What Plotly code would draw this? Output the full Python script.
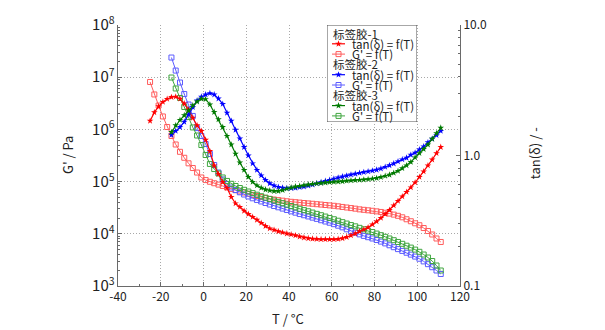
import plotly.graph_objects as go

# Temperature grids (°C)
temp_1 = [-25, -23, -21, -19, -17, -15, -13, -11, -9, -7, -5, -3, -1, 1, 3, 5, 7, 9, 11, 13,
          15, 17, 19, 21, 23, 25, 27, 29, 31, 33, 35, 37, 39, 41, 43, 45, 47, 49, 51, 53,
          55, 57, 59, 61, 63, 65, 67, 69, 71, 73, 75, 77, 79, 81, 83, 85, 87, 89, 91, 93,
          95, 97, 99, 101, 103, 105, 107, 109, 111]
temp_23 = [-15, -13, -11, -9, -7, -5, -3, -1, 1, 3, 5, 7, 9, 11, 13,
           15, 17, 19, 21, 23, 25, 27, 29, 31, 33, 35, 37, 39, 41, 43, 45, 47, 49, 51, 53,
           55, 57, 59, 61, 63, 65, 67, 69, 71, 73, 75, 77, 79, 81, 83, 85, 87, 89, 91, 93,
           95, 97, 99, 101, 103, 105, 107, 109, 111]

# Sample 1
tan_1 = [1.84, 2.14, 2.38, 2.57, 2.71, 2.80, 2.82, 2.72, 2.50, 2.25, 1.94, 1.70, 1.54, 1.32, 1.08,
         0.838, 0.722, 0.627, 0.564, 0.481, 0.429, 0.403, 0.376, 0.356, 0.338, 0.321, 0.304, 0.288,
         0.276, 0.269, 0.262, 0.257, 0.252, 0.248, 0.244, 0.239, 0.235, 0.232, 0.230, 0.229, 0.228,
         0.228, 0.228, 0.228, 0.229, 0.232, 0.237, 0.244, 0.252, 0.262, 0.271, 0.281, 0.296, 0.312,
         0.332, 0.356, 0.382, 0.414, 0.448, 0.485, 0.525, 0.569, 0.621, 0.684, 0.754, 0.838, 0.931,
         1.04, 1.16]
gp_1 = [8.1e6, 4.67e6, 2.87e6, 1.77e6, 1.11e6, 7.48e5, 5.14e5, 3.72e5, 2.86e5, 2.24e5, 1.82e5,
        1.49e5, 1.20e5, 1.07e5, 9.92e4, 9.31e4, 8.76e4, 8.24e4, 7.71e4, 7.21e4, 6.84e4, 6.49e4,
        6.18e4, 5.84e4, 5.54e4, 5.30e4, 5.07e4, 4.85e4, 4.68e4, 4.54e4, 4.42e4, 4.31e4, 4.20e4,
        4.10e4, 4.03e4, 3.96e4, 3.89e4, 3.82e4, 3.76e4, 3.69e4, 3.63e4, 3.56e4, 3.50e4, 3.44e4,
        3.36e4, 3.27e4, 3.19e4, 3.11e4, 3.03e4, 2.94e4, 2.88e4, 2.82e4, 2.76e4, 2.69e4, 2.62e4,
        2.53e4, 2.44e4, 2.33e4, 2.21e4, 2.07e4, 1.90e4, 1.74e4, 1.59e4, 1.46e4, 1.29e4, 1.13e4,
        9.70e3, 8.13e3, 6.97e3]

# Sample 2
tan_2 = [1.44, 1.54, 1.65, 1.81, 2.06, 2.35, 2.64, 2.82, 2.93, 3.00, 2.93, 2.73, 2.48, 2.12, 1.84,
         1.57, 1.35, 1.16, 1.00, 0.869, 0.774, 0.703, 0.649, 0.612, 0.588, 0.574, 0.565, 0.561,
         0.561, 0.565, 0.571, 0.578, 0.588, 0.598, 0.610, 0.623, 0.637, 0.649, 0.663, 0.676, 0.689,
         0.701, 0.713, 0.724, 0.734, 0.745, 0.754, 0.764, 0.776, 0.794, 0.816, 0.840, 0.867, 0.900,
         0.932, 0.960, 1.01, 1.05, 1.11, 1.17, 1.26, 1.34, 1.43, 1.54]
gp_2 = [2.38e7, 1.34e7, 7.91e6, 4.76e6, 3.00e6, 1.81e6, 1.06e6, 7.48e5, 5.25e5, 3.38e5, 2.08e5,
        1.49e5, 1.10e5, 8.99e4, 7.71e4, 6.90e4, 6.24e4, 5.66e4, 5.19e4, 4.79e4, 4.45e4, 4.16e4,
        3.89e4, 3.64e4, 3.41e4, 3.22e4, 3.04e4, 2.86e4, 2.69e4, 2.54e4, 2.39e4, 2.27e4, 2.15e4,
        2.04e4, 1.93e4, 1.82e4, 1.72e4, 1.63e4, 1.53e4, 1.43e4, 1.33e4, 1.22e4, 1.13e4, 1.05e4,
        9.75e3, 9.12e3, 8.61e3, 8.13e3, 7.61e3, 7.09e3, 6.55e3, 6.03e3, 5.54e3, 5.09e3, 4.70e3,
        4.34e3, 3.99e3, 3.66e3, 3.33e3, 2.96e3, 2.62e3, 2.29e3, 1.98e3, 1.70e3]

# Sample 3
tan_3 = [1.51, 1.70, 1.87, 2.03, 2.21, 2.42, 2.59, 2.72, 2.70, 2.46, 2.15, 1.89, 1.65, 1.41, 1.21,
         1.03, 0.883, 0.774, 0.684, 0.627, 0.589, 0.565, 0.548, 0.539, 0.534, 0.534, 0.542, 0.556,
         0.568, 0.578, 0.584, 0.592, 0.599, 0.605, 0.610, 0.615, 0.620, 0.624, 0.628, 0.630, 0.634,
         0.640, 0.643, 0.647, 0.649, 0.653, 0.658, 0.664, 0.670, 0.682, 0.697, 0.711, 0.734, 0.761,
         0.798, 0.838, 0.891, 0.966, 1.04, 1.12, 1.21, 1.34, 1.48, 1.63]
gp_3 = [9.86e6, 6.08e6, 4.00e6, 2.69e6, 1.73e6, 1.09e6, 7.64e5, 5.02e5, 3.23e5, 2.18e5, 1.74e5,
        1.43e5, 1.20e5, 1.03e5, 9.08e4, 8.24e4, 7.54e4, 6.97e4, 6.46e4, 6.02e4, 5.61e4, 5.25e4,
        4.93e4, 4.64e4, 4.36e4, 4.10e4, 3.86e4, 3.63e4, 3.41e4, 3.21e4, 3.01e4, 2.84e4, 2.70e4,
        2.55e4, 2.41e4, 2.27e4, 2.14e4, 2.01e4, 1.90e4, 1.78e4, 1.67e4, 1.57e4, 1.47e4, 1.39e4,
        1.30e4, 1.22e4, 1.15e4, 1.08e4, 1.01e4, 9.40e3, 8.76e3, 8.13e3, 7.54e3, 6.97e3, 6.43e3,
        5.91e3, 5.44e3, 4.98e3, 4.52e3, 4.01e3, 3.51e3, 3.01e3, 2.47e3, 1.98e3]

sample_labels = ["标签胶-1", "标签胶-2", "标签胶-3"]
tan_label = "tan(δ) = f(T)"
gp_label = "G' = f(T)"

x_tickvals = [-40, -20, 0, 20, 40, 60, 80, 100, 120]
x_ticktext = ["-40", "-20", "0", "20", "40", "60", "80", "100", "120"]
tan_tickvals = [0.1, 1, 10]
tan_ticktext = ["0.1", "1.0", "10.0"]

TAN_COLORS = ["#ff0000", "#0000ff", "#007a00"]
GP_COLORS = ["#ff5c5c", "#5c5cff", "#40a640"]
AXIS_COLOR = "#6a6a6a"
GRID_COLOR = "#a8a8a8"
FONT = "Noto Sans CJK SC, Noto Sans, sans-serif"

series = [
    (temp_1, tan_1, gp_1),
    (temp_23, tan_2, gp_2),
    (temp_23, tan_3, gp_3),
]
for t, a, b in series:
    assert len(t) == len(a) == len(b)

fig = go.Figure()

# storage modulus curves (left axis)
for i, (t, _, gp) in enumerate(series):
    fig.add_trace(go.Scatter(
        x=t, y=gp, mode="lines+markers", xaxis="x", yaxis="y", showlegend=False,
        line=dict(color=GP_COLORS[i], width=1),
        marker=dict(symbol="square-open", size=5, color=GP_COLORS[i],
                    line=dict(color=GP_COLORS[i], width=1)),
        name=f"{sample_labels[i]} {gp_label}",
    ))

# loss factor curves (right axis)
for i, (t, tan, _) in enumerate(series):
    fig.add_trace(go.Scatter(
        x=t, y=tan, mode="lines+markers", xaxis="x", yaxis="y2", showlegend=False,
        line=dict(color=TAN_COLORS[i], width=1.2),
        marker=dict(symbol="star", size=5, color=TAN_COLORS[i], line=dict(width=0)),
        name=f"{sample_labels[i]} {tan_label}",
    ))

# legend panel drawn in its own small pixel-unit subplot
LEG_X0, LEG_X1, LEG_Y0, LEG_Y1 = 327, 417, 25, 122
row_y0, row_step = 33.5, 10.3
glyph_x0, glyph_x1, text_x = 332, 345, 351
LEG_FONT = dict(size=11.5, color="#222")
annotations = []
shapes = [dict(type="rect", xref="x3", yref="y3", x0=LEG_X0, x1=LEG_X1, y0=LEG_Y0, y1=LEG_Y1,
               fillcolor="white", line=dict(color="#505050", width=1), layer="below")]
row = 0
for i in range(3):
    annotations.append(dict(xref="x3", yref="y3", x=glyph_x0 - 0.5, y=row_y0 + row * row_step,
                            text=sample_labels[i], showarrow=False, xanchor="left",
                            yanchor="middle", borderpad=0, font=LEG_FONT))
    row += 1
    for label, col, sym, size, lw in [(tan_label, TAN_COLORS[i], "star", 5, 1.2),
                                       (gp_label, GP_COLORS[i], "square-open", 5, 1)]:
        yy = row_y0 + row * row_step
        fig.add_trace(go.Scatter(x=[glyph_x0, glyph_x1], y=[yy, yy], mode="lines",
                                 xaxis="x3", yaxis="y3", showlegend=False, hoverinfo="skip",
                                 line=dict(color=col, width=lw)))
        fig.add_trace(go.Scatter(x=[(glyph_x0 + glyph_x1) / 2], y=[yy], mode="markers",
                                 xaxis="x3", yaxis="y3", showlegend=False, hoverinfo="skip",
                                 marker=dict(symbol=sym, size=size, color=col,
                                             line=dict(color=col, width=1 if "open" in sym else 0))))
        annotations.append(dict(xref="x3", yref="y3", x=text_x, y=yy, text=label,
                                showarrow=False, xanchor="left", yanchor="middle",
                                borderpad=0, font=LEG_FONT))
        row += 1

# axis titles
annotations += [
    dict(xref="paper", yref="paper", x=-0.146, y=0.502, text="G' / Pa", textangle=-90,
         showarrow=False, xanchor="center", yanchor="middle", font=dict(size=13, color="#222")),
    dict(xref="paper", yref="paper", x=1.22, y=0.51, text="tan(δ) / -", textangle=-90,
         showarrow=False, xanchor="center", yanchor="middle", font=dict(size=13, color="#222")),
    dict(xref="paper", yref="paper", x=0.497, y=-0.123, text="T / °C",
         showarrow=False, xanchor="center", yanchor="middle", font=dict(size=13, color="#222")),
]

minor_style = dict(ticks="inside", ticklen=2, tickcolor=AXIS_COLOR, showgrid=False)
grid_style = dict(showgrid=True, gridcolor=GRID_COLOR, griddash="1px,2px", gridwidth=1)

fig.update_layout(
    width=605, height=330,
    margin=dict(l=118, r=145, t=25, b=44),
    paper_bgcolor="white", plot_bgcolor="white",
    font=dict(family=FONT, size=12, color="#222"),
    showlegend=False,
    xaxis=dict(domain=[0, 1], range=[-40, 120], tickmode="array", tickvals=x_tickvals,
               ticktext=x_ticktext, ticks="inside", ticklen=4, tickcolor=AXIS_COLOR,
               showline=True, linecolor=AXIS_COLOR, linewidth=1, zeroline=False,
               minor=dict(dtick=10, tick0=-40, **minor_style), anchor="y", **grid_style),
    yaxis=dict(type="log", range=[3, 8], dtick=1, exponentformat="power", ticks="inside",
               ticklen=4, tickcolor=AXIS_COLOR, showline=True, linecolor=AXIS_COLOR,
               linewidth=1, zeroline=False, minor=dict(dtick="D1", **minor_style),
               anchor="x", **grid_style),
    yaxis2=dict(type="log", range=[-1, 1], overlaying="y", side="right", anchor="x",
                tickmode="array", tickvals=tan_tickvals, ticktext=tan_ticktext,
                ticks="inside", ticklen=4, tickcolor=AXIS_COLOR, showline=True,
                linecolor=AXIS_COLOR, linewidth=1, zeroline=False, showgrid=False,
                minor=dict(dtick="D1", **minor_style)),
    xaxis3=dict(domain=[(LEG_X0 - 118) / 342, (LEG_X1 - 118) / 342], range=[LEG_X0, LEG_X1],
                visible=False, anchor="y3", fixedrange=True),
    yaxis3=dict(domain=[(286 - LEG_Y1) / 261, 1.0], range=[LEG_Y1, LEG_Y0],
                visible=False, anchor="x3", fixedrange=True),
    shapes=shapes,
    annotations=annotations,
)

fig.write_html("out.html")
